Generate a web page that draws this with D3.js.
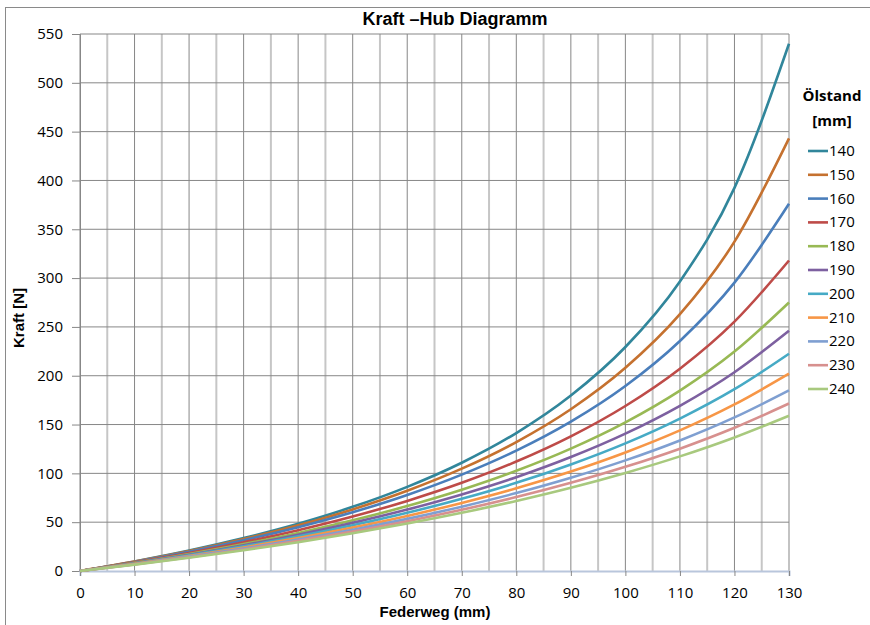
<!DOCTYPE html>
<html><head><meta charset="utf-8">
<script src="https://cdn.jsdelivr.net/npm/d3@7"></script>
<style>body{margin:0;background:#fff}svg{display:block}</style>
</head><body>
<svg id="chart" width="870" height="625"></svg>
<script>
const xValues = [0,10,20,30,40,50,60,70,80,90,100,110,120,130];
const seriesNames = ["140","150","160","170","180","190","200","210","220","230","240"];
const s140 = [0,9.8,20.9,33.7,48.4,65.7,86.2,110.9,141.3,179.7,229.4,296.6,392.4,540.0];
const s150 = [0,9.6,20.4,32.7,46.8,63.1,82.2,104.8,132.1,165.7,208.1,263.0,337.3,443.1];
const s160 = [0,9.3,19.8,31.5,44.9,60.2,77.9,98.7,123.3,153.0,189.5,235.6,295.3,376.1];
const s170 = [0,8.8,18.5,29.4,41.8,55.8,71.8,90.3,112.1,137.9,169.0,207.2,255.4,318.0];
const s180 = [0,8.3,17.4,27.6,39.0,51.9,66.5,83.2,102.6,125.3,152.2,184.7,224.7,275.0];
const s190 = [0,8.0,16.7,26.4,37.2,49.3,62.9,78.4,96.1,116.7,140.7,169.2,203.6,246.0];
const s200 = [0,7.7,16.0,25.3,35.5,46.9,59.6,74.0,90.3,109.1,130.7,156.1,186.2,222.5];
const s210 = [0,7.3,15.3,24.1,33.8,44.5,56.4,69.7,84.7,101.8,121.4,144.0,170.6,202.1];
const s220 = [0,7.0,14.7,23.0,32.2,42.3,53.4,65.9,79.8,95.5,113.3,133.7,157.3,185.0];
const s230 = [0,6.8,14.1,22.1,30.9,40.5,51.0,62.7,75.7,90.3,106.7,125.3,146.7,171.5];
const s240 = [0,6.5,13.6,21.2,29.5,38.6,48.6,59.6,71.7,85.2,100.4,117.4,136.8,159.0];
const seriesValues = [s140,s150,s160,s170,s180,s190,s200,s210,s220,s230,s240];
const seriesColors = ["#31869b","#c5712f","#4a7ebb","#be4b48","#98b954","#7d60a0","#46aac5","#f79646","#7f9fd1","#d7908e","#a8c97e"];
const xTicks = d3.range(0,131,10);
const xGrid = d3.range(0,131,5);
const yTicks = d3.range(0,551,50);

const svg = d3.select("#chart");
const L = 80, R = 789, T = 34, B = 571;
const x = d3.scaleLinear().domain([0,130]).range([L,R]);
const y = d3.scaleLinear().domain([0,550]).range([B,T]);
const tickFont = "'Open Sans', 'Noto Sans', sans-serif";

// outer border
svg.append("rect").attr("x",5.5).attr("y",7.5).attr("width",880).attr("height",640)
  .attr("fill","none").attr("stroke","#8a8a8a").attr("stroke-width",1);

// title
svg.append("text").attr("x",455).attr("y",25).attr("text-anchor","middle")
  .attr("font-family","'Liberation Sans', Arial, sans-serif").attr("font-weight","bold")
  .attr("font-size",18).attr("fill","#000").text("Kraft \u2013Hub Diagramm");

// vertical grid
svg.append("g").selectAll("line").data(xGrid).join("line")
  .attr("x1",d=>x(d)).attr("x2",d=>x(d)).attr("y1",T).attr("y2",B)
  .attr("stroke",d=>d%10===0?"#878787":"#c6c6c6")
  .attr("stroke-width",d=>d%10===0?1:2);
// horizontal grid
svg.append("g").selectAll("line").data(yTicks.filter(d=>d>0)).join("line")
  .attr("x1",L).attr("x2",R).attr("y1",d=>y(d)).attr("y2",d=>y(d))
  .attr("stroke","#878787").attr("stroke-width",1);

// y axis
const yAxis = d3.axisLeft(y).tickValues(yTicks).tickSize(8).tickPadding(9);
const gy = svg.append("g").attr("transform",`translate(${L},0)`).call(yAxis);
gy.select(".domain").attr("stroke","#878787");
gy.selectAll(".tick line").attr("stroke","#878787");
gy.selectAll("text").attr("font-family",tickFont).attr("font-size",15).attr("fill","#000");

// x axis
const xAxis = d3.axisBottom(x).tickValues(xTicks).tickSize(5).tickPadding(11);
const gx = svg.append("g").attr("transform",`translate(0,${B})`).call(xAxis);
gx.select(".domain").attr("stroke","#b9c6dc").attr("stroke-width",2);
gx.selectAll(".tick line").attr("stroke","#878787");
gx.selectAll("text").attr("font-family",tickFont).attr("font-size",15).attr("fill","#000");

// axis titles
svg.append("text").attr("x",435).attr("y",617).attr("text-anchor","middle")
  .attr("font-family","'Liberation Sans', Arial, sans-serif").attr("font-weight","bold")
  .attr("font-size",15).text("Federweg (mm)");
svg.append("text").attr("transform","translate(24,318) rotate(-90)").attr("text-anchor","middle")
  .attr("font-family","'Liberation Sans', Arial, sans-serif").attr("font-weight","bold")
  .attr("font-size",15).text("Kraft [N]");

// lines
const line = d3.line().x((d,i)=>x(xValues[i])).y(d=>y(d)).curve(d3.curveMonotoneX);
svg.append("g").selectAll("path").data(seriesValues).join("path")
  .attr("d",d=>line(d)).attr("fill","none")
  .attr("stroke",(d,i)=>seriesColors[i]).attr("stroke-width",2.6);

// legend
const lg = svg.append("g");
lg.append("text").attr("x",832).attr("y",101).attr("text-anchor","middle")
  .attr("font-family",tickFont).attr("font-weight","bold").attr("font-size",15).text("Ölstand");
lg.append("text").attr("x",832).attr("y",126).attr("text-anchor","middle")
  .attr("font-family",tickFont).attr("font-weight","bold").attr("font-size",15).text("[mm]");
const item = lg.selectAll("g.item").data(seriesNames).join("g").attr("class","item")
  .attr("transform",(d,i)=>`translate(0,${151+i*23.8})`);
item.append("line").attr("x1",808).attr("x2",828).attr("y1",0).attr("y2",0)
  .attr("stroke",(d,i)=>seriesColors[i]).attr("stroke-width",2.6);
item.append("text").attr("x",829).attr("y",5).attr("font-family",tickFont)
  .attr("font-size",15).text(d=>d);
</script>
</body></html>
